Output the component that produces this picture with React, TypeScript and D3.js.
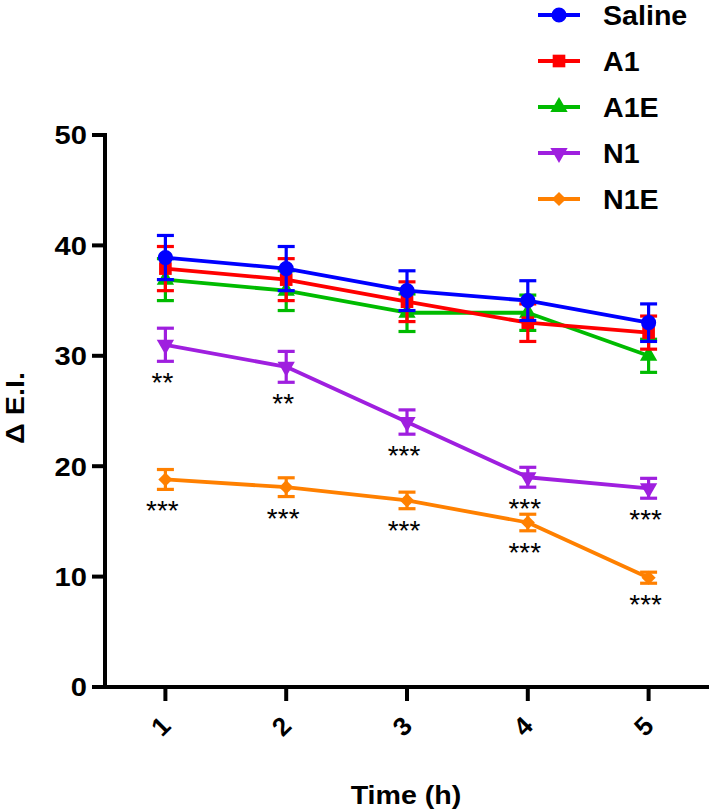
import React from "react";
import * as d3 from "d3";

const times = [1, 2, 3, 4, 5];
const xTickLabels = ["1", "2", "3", "4", "5"];
const yTicks = [0, 10, 20, 30, 40, 50];

const seriesNames = ["Saline", "A1", "A1E", "N1", "N1E"];
const salineMean = [38.9, 37.9, 35.9, 35.0, 33.0];
const salineErr = [2.0, 2.0, 1.8, 1.8, 1.7];
const a1Mean = [37.9, 36.9, 34.9, 33.0, 32.1];
const a1Err = [2.0, 1.9, 1.8, 1.7, 1.5];
const a1eMean = [36.9, 35.9, 33.9, 33.9, 30.0];
const a1eErr = [1.9, 1.8, 1.7, 1.6, 1.5];
const n1Mean = [31.0, 29.0, 24.0, 19.0, 18.0];
const n1Err = [1.5, 1.4, 1.1, 0.9, 0.9];
const n1eMean = [18.8, 18.1, 16.9, 14.9, 9.9];
const n1eErr = [0.9, 0.85, 0.75, 0.75, 0.5];
const n1Stars = ["**", "**", "***", "***", "***"];
const n1eStars = ["***", "***", "***", "***", "***"];

const W = 712;
const H = 811;
const FONT = "'Liberation Sans', Arial, Helvetica, sans-serif";

type Series = {
  name: string;
  color: string;
  mean: number[];
  err: number[];
  symbol: d3.SymbolType;
  size: number;
  rotate: number;
  stars?: string[];
};

const series: Series[] = [
  { name: seriesNames[0], color: "#0000ff", mean: salineMean, err: salineErr, symbol: d3.symbolCircle, size: 180, rotate: 0 },
  { name: seriesNames[1], color: "#ff0000", mean: a1Mean, err: a1Err, symbol: d3.symbolSquare, size: 160, rotate: 0 },
  { name: seriesNames[2], color: "#00bb00", mean: a1eMean, err: a1eErr, symbol: d3.symbolTriangle, size: 130, rotate: 0 },
  { name: seriesNames[3], color: "#9f1fdf", mean: n1Mean, err: n1Err, symbol: d3.symbolTriangle, size: 130, rotate: 180, stars: n1Stars },
  { name: seriesNames[4], color: "#ff8000", mean: n1eMean, err: n1eErr, symbol: d3.symbolSquare, size: 100, rotate: 45, stars: n1eStars },
];

export default function App() {
  const x = d3.scaleLinear().domain([0.5, 5.5]).range([105, 709]);
  const y = d3.scaleLinear().domain([0, 50]).range([687, 135]);
  const line = d3
    .line<number>()
    .x((_, i) => x(times[i]))
    .y((d) => y(d));

  const drawOrder = [...series].reverse();
  const capHalf = 8.5;

  const legendX = 538;
  const legendY0 = 15;
  const legendDy = 46;

  return (
    <svg
      width={W}
      height={H}
      style={{ position: "absolute", left: 0, top: 0, background: "#fff" }}
      fontFamily={FONT}
    >
      <rect x={0} y={0} width={W} height={H} fill="#fff" />

      {/* series */}
      {drawOrder.map((s) => (
        <g key={s.name}>
          <path d={line(s.mean) || ""} fill="none" stroke={s.color} strokeWidth={3.8} strokeLinejoin="round" />
          {s.mean.map((m, i) => {
            const cx = x(times[i]);
            const yt = y(m + s.err[i]);
            const yb = y(m - s.err[i]);
            return (
              <g key={i} stroke={s.color} strokeWidth={3.2}>
                <line x1={cx} x2={cx} y1={yt} y2={yb} />
                <line x1={cx - capHalf} x2={cx + capHalf} y1={yt} y2={yt} />
                <line x1={cx - capHalf} x2={cx + capHalf} y1={yb} y2={yb} />
              </g>
            );
          })}
          {s.mean.map((m, i) => (
            <path
              key={"m" + i}
              d={d3.symbol().type(s.symbol).size(s.size)() || ""}
              transform={`translate(${x(times[i])},${y(m)}) rotate(${s.rotate})`}
              fill={s.color}
            />
          ))}
          {s.stars &&
            s.stars.map((st, i) => (
              <text
                key={"s" + i}
                x={x(times[i]) - 3}
                y={y(s.mean[i] - s.err[i]) + 16 + 15}
                textAnchor="middle"
                fontSize={28}
                fill="#000"
              >
                {st}
              </text>
            ))}
        </g>
      ))}

      {/* axes */}
      <g stroke="#000" strokeWidth={4}>
        <line x1={105} x2={105} y1={y(50) - 2} y2={689} />
        <line x1={103} x2={709} y1={687} y2={687} />
        {yTicks.map((t) => (
          <line key={t} x1={92} x2={105} y1={y(t)} y2={y(t)} />
        ))}
        {times.map((t) => (
          <line key={t} x1={x(t)} x2={x(t)} y1={687} y2={701} />
        ))}
      </g>
      {yTicks.map((t) => (
        <text
          key={t}
          transform={`translate(87,${y(t)}) scale(1.12,1)`}
          dy="0.36em"
          textAnchor="end"
          fontSize={26}
          fontWeight="bold"
          fill="#000"
        >
          {t}
        </text>
      ))}
      {times.map((t, i) => (
        <text
          key={t}
          transform={`translate(${x(t) - 5},${726}) rotate(-45)`}
          textAnchor="middle"
          dy="0.36em"
          fontSize={26}
          fontWeight="bold"
          fill="#000"
        >
          {xTickLabels[i]}
        </text>
      ))}
      <text
        transform={`translate(406,804) scale(1.1,1)`}
        textAnchor="middle"
        fontSize={26}
        fontWeight="bold"
        fill="#000"
      >
        Time (h)
      </text>
      <text
        transform={`translate(24,${408}) rotate(-90) scale(1.15,1)`}
        textAnchor="middle"
        fontSize={25}
        fontWeight="bold"
        fill="#000"
      >
        Δ E.I.
      </text>

      {/* legend */}
      {series.map((s, i) => {
        const ly = legendY0 + i * legendDy;
        return (
          <g key={s.name}>
            <line x1={legendX} x2={legendX + 42} y1={ly} y2={ly} stroke={s.color} strokeWidth={3.8} />
            <path
              d={d3.symbol().type(s.symbol).size(s.size)() || ""}
              transform={`translate(${legendX + 21},${ly}) rotate(${s.rotate})`}
              fill={s.color}
            />
            <text
              transform={`translate(603,${ly}) scale(1.06,1)`}
              dy="0.36em"
              fontSize={27}
              fontWeight="bold"
              fill="#000"
            >
              {s.name}
            </text>
          </g>
        );
      })}
    </svg>
  );
}
